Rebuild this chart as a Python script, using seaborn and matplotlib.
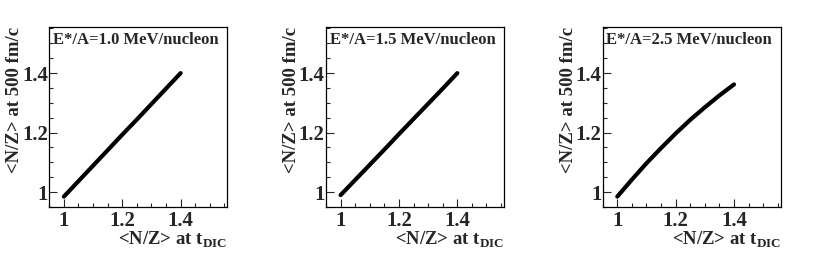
import numpy as np
import pandas as pd
import matplotlib
matplotlib.use("Agg")
import matplotlib.pyplot as plt
from matplotlib.ticker import MultipleLocator
import seaborn as sns

# values
nz_dic = [1.00, 1.05, 1.10, 1.15, 1.20, 1.25, 1.30, 1.35, 1.40]
nz_500_e10 = [0.985, 1.037, 1.089, 1.141, 1.193, 1.244, 1.296, 1.348, 1.400]
nz_500_e15 = [0.990, 1.041, 1.092, 1.143, 1.195, 1.246, 1.297, 1.348, 1.400]
nz_500_e25 = [0.985, 1.042, 1.097, 1.148, 1.197, 1.243, 1.285, 1.325, 1.362]
titles = ["E*/A=1.0 MeV/nucleon", "E*/A=1.5 MeV/nucleon", "E*/A=2.5 MeV/nucleon"]

sns.set_theme(style="ticks")
plt.rcParams['font.family'] = ['Liberation Serif', 'DejaVu Serif']
plt.rcParams['font.weight'] = 'bold'
plt.rcParams['axes.labelweight'] = 'bold'
plt.rcParams['mathtext.fontset'] = 'custom'
plt.rcParams['mathtext.rm'] = 'Liberation Serif:bold'
plt.rcParams['mathtext.bf'] = 'Liberation Serif:bold'

fig = plt.figure(figsize=(8.30, 2.62), dpi=100)
lefts = [49.3 / 830, 326 / 830, 602.7 / 830]
series = [nz_500_e10, nz_500_e15, nz_500_e25]

for left, ys, title in zip(lefts, series, titles):
    ax = fig.add_axes([left, 55 / 262, 178 / 830, 180 / 262])
    df = pd.DataFrame({'dic': nz_dic, 'late': ys})
    sns.lineplot(data=df, x='dic', y='late', color='black', lw=3, ax=ax)
    ax.set_xlim(0.95, 1.56)
    ax.set_ylim(0.95, 1.555)
    ax.xaxis.set_minor_locator(MultipleLocator(0.05))
    ax.yaxis.set_minor_locator(MultipleLocator(0.05))
    ax.set_xticks([1.0, 1.2, 1.4])
    ax.set_xticklabels(['1', '1.2', '1.4'])
    ax.set_yticks([1.0, 1.2, 1.4])
    ax.set_yticklabels(['1', '1.2', '1.4'])
    ax.tick_params(which='major', direction='in', length=6, width=0.8, labelsize=15)
    ax.tick_params(which='minor', direction='in', length=3, width=0.8)
    ax.tick_params(axis='x', pad=3)
    ax.tick_params(axis='y', pad=1)
    for s in ax.spines.values():
        s.set_linewidth(0.9)
        s.set_color('black')
    ax.set_xlabel(r'<N/Z> at t$_{\mathregular{DIC}}$', fontsize=13.5, fontweight='bold')
    ax.xaxis.set_label_coords(1.0, -0.128)
    ax.xaxis.label.set_ha('right')
    ax.xaxis.label.set_va('top')
    ax.set_ylabel('<N/Z> at 500 fm/c', fontsize=13.5, fontweight='bold')
    ax.yaxis.set_label_coords(-0.193, 1.0)
    ax.yaxis.label.set_ha('right')
    ax.yaxis.label.set_va('center')
    ax.text(0.02, 0.93, title, transform=ax.transAxes, fontsize=12,
            fontweight='bold', va='center', ha='left')

fig.savefig('out.png', dpi=100)
